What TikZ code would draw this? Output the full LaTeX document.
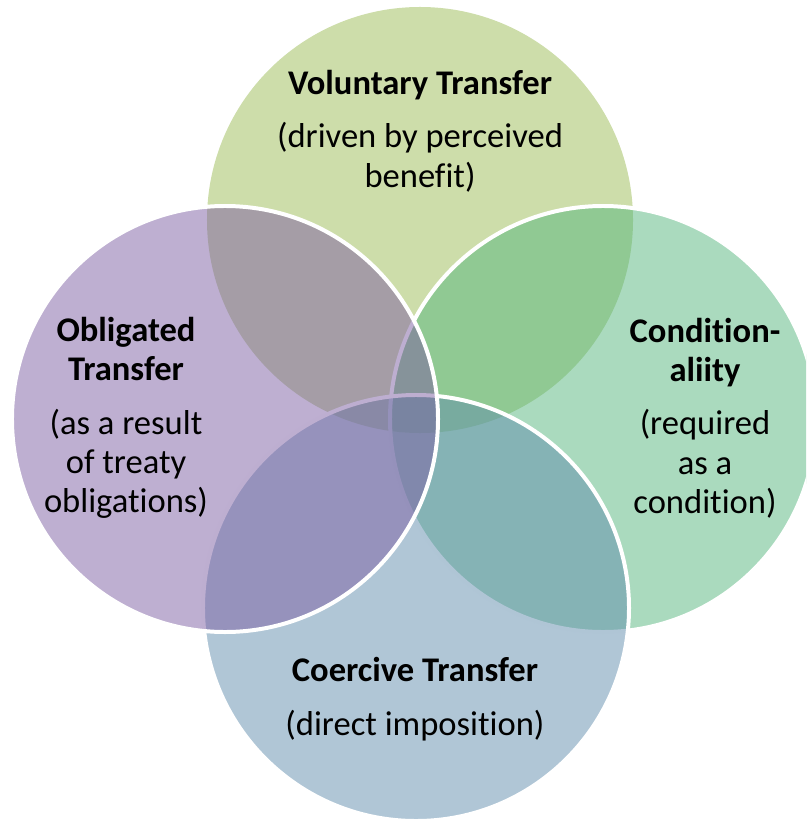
\documentclass[tikz,border=0pt]{standalone}
\usepackage{fontspec}
\setmainfont{Carlito}[Ligatures=NoCommon]
\usetikzlibrary{positioning}
\definecolor{olivegreen}{RGB}{155,187,85}
\definecolor{seagreen}{RGB}{85,181,125}
\definecolor{slateblue}{RGB}{97,141,173}
\definecolor{lavender}{RGB}{125,95,163}

\begin{document}
\begin{tikzpicture}[
      x=0.03cm, y=-0.03cm,
      ring/.style={circle, minimum size=12.78cm, inner sep=0pt,
                   fill opacity=0.5, draw=white, line width=3.4pt},
      caption/.style={align=center, inner sep=0pt,
                      font=\fontsize{29.5}{33.5}\selectfont}
    ]
    \useasboundingbox (0,0) rectangle (806,821);
    \clip (0,0) rectangle (806,821);

    % the four sets, back to front
    \node[ring, draw=none, fill=olivegreen] (vol) at (420,220) {};
    \node[ring, fill=seagreen] (con) at (603,419) {};
    \node[ring, fill=slateblue] (coe) at (416,608) {};
    \node[ring, fill=lavender] (obl) at (225,419) {};

    \node[caption] (voltext) at (420,131)
      {\textbf{Voluntary Transfer}\\[12pt](driven by perceived\\benefit)};
    \node[caption] (context) at (705,418)
      {\textbf{Condition-}\\\textbf{aliity}\\[12pt](required\\as a\\condition)};
    \node[caption] (coetext) at (415,699)
      {\textbf{Coercive Transfer}\\[12pt](direct imposition)};
    \node[caption] (obltext) at (126,418)
      {\textbf{Obligated}\\\textbf{Transfer}\\[12pt](as a result\\of treaty\\obligations)};
  \end{tikzpicture}
\end{document}
